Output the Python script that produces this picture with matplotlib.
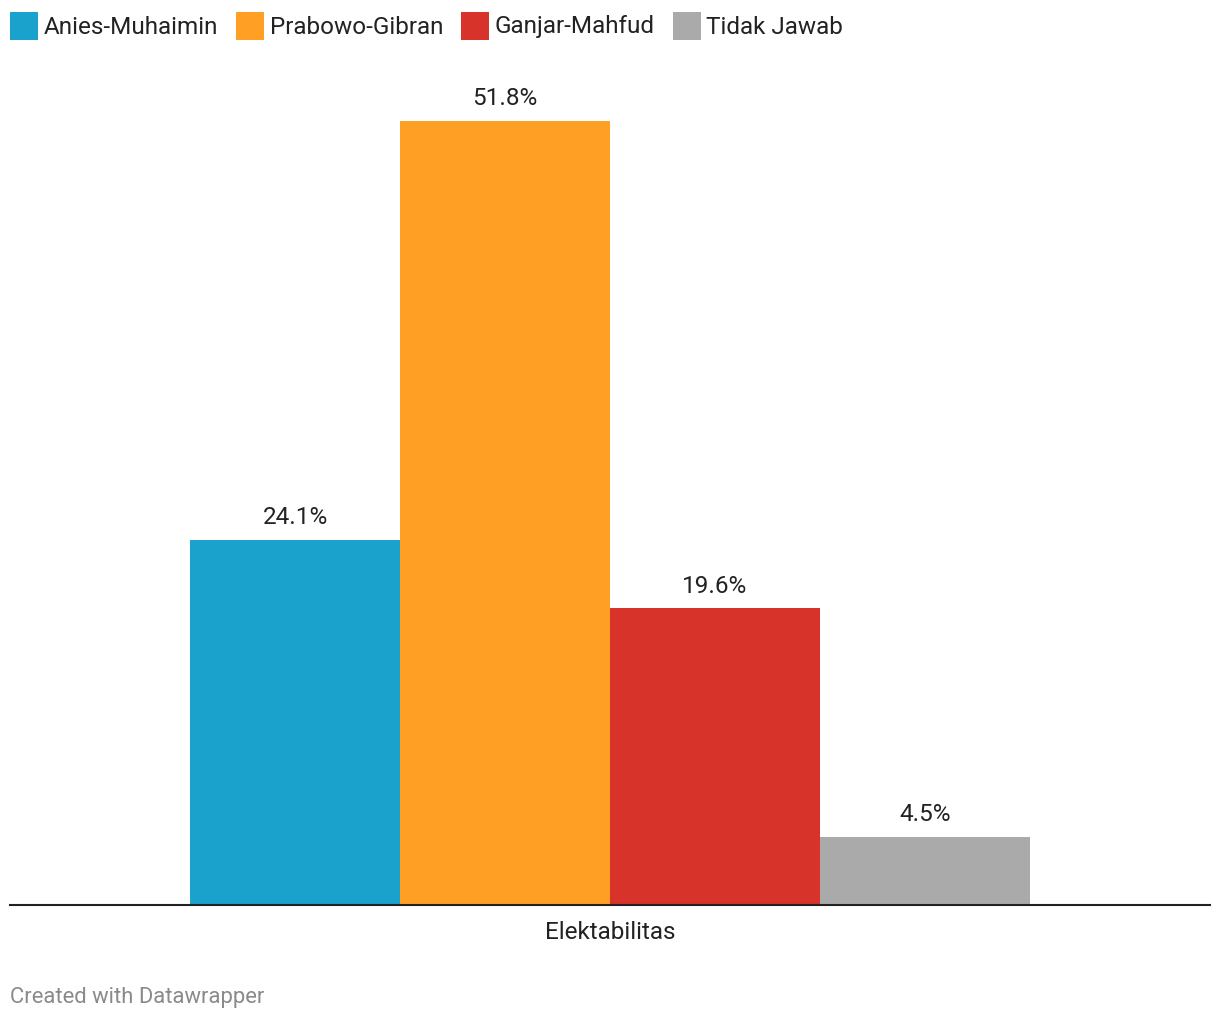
import matplotlib
matplotlib.use("Agg")
import matplotlib.pyplot as plt
from matplotlib.patches import Rectangle

plt.rcParams['font.family'] = ['Roboto', 'DejaVu Sans']

names = ['Anies-Muhaimin', 'Prabowo-Gibran', 'Ganjar-Mahfud', 'Tidak Jawab']
values = [24.1, 51.8, 19.6, 4.5]
colors = ['#1aa1cc', '#ffa024', '#d8332b', '#aaaaaa']
category = 'Elektabilitas'

W, H = 1220, 1020
fig = plt.figure(figsize=(W / 100, H / 100), dpi=100)
base = 906
ax = fig.add_axes([10 / W, (H - base) / H, 1200 / W, (base - 60) / H])

n = len(values)
xs = [i - (n - 1) / 2 for i in range(n)]
ax.bar(xs, values, width=1.0, color=colors, linewidth=0)
for x, v in zip(xs, values):
    ax.annotate(f'{v}%', (x, v), xytext=(0, 8.5), textcoords='offset points',
                ha='center', va='bottom', fontsize=17.5, color='#222222')

ax.set_xlim(-600 / 210, 600 / 210)
ax.set_ylim(0, (base - 60) / (784 / 51.8))
for s in ['top', 'right', 'left']:
    ax.spines[s].set_visible(False)
ax.spines['bottom'].set_linewidth(1.5)
ax.spines['bottom'].set_color('#222222')
ax.set_yticks([])
ax.set_xticks([0])
ax.set_xticklabels([category], fontsize=17.5, color='#222222')
ax.tick_params(axis='x', length=0, pad=11)

# legend row
fig.canvas.draw()
renderer = fig.canvas.get_renderer()
x = 10
for name, c in zip(names, colors):
    fig.patches.append(Rectangle((x / W, (H - 41) / H), 28 / W, 28 / H,
                                 transform=fig.transFigure, color=c, linewidth=0))
    t = fig.text((x + 34) / W, (H - 27) / H, name, fontsize=17.5, color='#222222',
                 ha='left', va='center')
    bb = t.get_window_extent(renderer)
    x = bb.x1 + 17.5

fig.text(10 / W, (H - 998) / H, 'Created with Datawrapper', fontsize=15.8,
         color='#8a8a8a', ha='left', va='center')

fig.savefig('out.png', dpi=100)
